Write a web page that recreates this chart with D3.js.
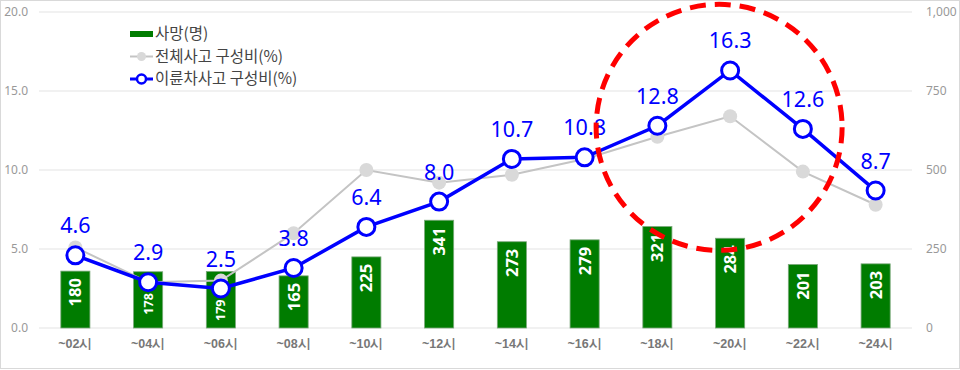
<!DOCTYPE html>
<html><head><meta charset="utf-8">
<script src="https://cdn.jsdelivr.net/npm/d3@7/dist/d3.min.js"></script>
<style>
html,body{margin:0;padding:0;background:#fff;}
svg{display:block;font-family:"Noto Sans CJK KR","Noto Sans",sans-serif;}
</style></head>
<body><svg id="c" width="960" height="370"></svg>
<script>
const categories = ["~02시","~04시","~06시","~08시","~10시","~12시","~14시","~16시","~18시","~20시","~22시","~24시"];
const deaths = [180,178,179,165,225,341,273,279,321,284,201,203];
const totalShare = [5.1,2.9,3.0,6.0,10.0,9.2,9.7,10.7,12.1,13.4,9.9,7.8];
const twoWheelShare = [4.6,2.9,2.5,3.8,6.4,8.0,10.7,10.8,12.8,16.3,12.6,8.7];
const leftTicks = [0,5,10,15,20];
const rightTicks = [0,250,500,750,1000];
const legendLabels = ["사망(명)","전체사고 구성비(%)","이륜차사고 구성비(%)"];

const svg = d3.select("#c");
const W = 960, H = 370;
const m = {left:39, right:48, top:12, bottom:42};

svg.append("rect").attr("x",0.5).attr("y",0.5).attr("width",W-1).attr("height",H-2)
  .attr("fill","#fff").attr("stroke","#d9d9d9");

const x = d3.scaleBand().domain(categories).range([m.left, W-m.right]).paddingInner(0.6).paddingOuter(0.3);
const yL = d3.scaleLinear().domain([0,20]).range([H-m.bottom, m.top]);
const yR = d3.scaleLinear().domain([0,1000]).range([H-m.bottom, m.top]);
const cx = c => x(c) + x.bandwidth()/2;

// gridlines
svg.append("g").selectAll("line").data(leftTicks).join("line")
  .attr("x1",m.left).attr("x2",W-m.right)
  .attr("y1",d=>yL(d)).attr("y2",d=>yL(d))
  .attr("stroke","#e3e3e3").attr("stroke-width",1);

// left axis labels
const axL = svg.append("g").attr("transform",`translate(${m.left-11},0)`)
  .call(d3.axisLeft(yL).tickValues(leftTicks).tickFormat(d3.format(".1f")).tickSize(0).tickPadding(0));
axL.select(".domain").remove();
axL.selectAll("text").attr("fill","#999").attr("font-size",12).attr("font-family","Noto Sans, sans-serif");

// right axis labels
const axR = svg.append("g").attr("transform",`translate(${W-m.right+14},0)`)
  .call(d3.axisRight(yR).tickValues(rightTicks).tickFormat(d3.format(",")).tickSize(0).tickPadding(0));
axR.select(".domain").remove();
axR.selectAll("text").attr("fill","#999").attr("font-size",12).attr("font-family","Noto Sans, sans-serif");

// x axis
const axX = svg.append("g").attr("transform",`translate(0,${H-m.bottom+8})`)
  .call(d3.axisBottom(x).tickSize(0).tickPadding(3));
axX.select(".domain").remove();
axX.selectAll("text").attr("fill","#777").attr("font-size",12.5).attr("font-weight","bold");

// bars
svg.append("g").selectAll("rect").data(categories).join("rect")
  .attr("x",d=>x(d)).attr("width",x.bandwidth())
  .attr("y",(d,i)=>yR(deaths[i])).attr("height",(d,i)=>yR(0)-yR(deaths[i]))
  .attr("fill","#007c00").attr("stroke","#7aa87a").attr("stroke-width",0.8);

// bar labels
svg.append("g").selectAll("text").data(categories).join("text")
  .attr("transform",(d,i)=>{
    const top = yR(deaths[i]);
    const my = yL(twoWheelShare[i]);
    const inside = my > top;
    const ty = inside ? my + 11 : top + 7;
    return `translate(${cx(d)+ (inside?4.5:6)},${ty}) rotate(-90)`;
  })
  .attr("text-anchor","end")
  .attr("font-size",(d,i)=> yL(twoWheelShare[i]) > yR(deaths[i]) ? 12.5 : 16.5)
  .attr("font-weight","bold").attr("fill","#fff")
  .attr("font-family","Noto Sans, sans-serif")
  .text((d,i)=>deaths[i]);

// gray line
const line = d3.line().x((d,i)=>cx(categories[i])).y(d=>yL(d));
svg.append("path").datum(totalShare).attr("d",line)
  .attr("fill","none").attr("stroke","#c4c4c4").attr("stroke-width",2);
svg.append("g").selectAll("circle").data(totalShare).join("circle")
  .attr("cx",(d,i)=>cx(categories[i])).attr("cy",d=>yL(d)).attr("r",7)
  .attr("fill","#d9d9d9");

// blue line
svg.append("path").datum(twoWheelShare).attr("d",line)
  .attr("fill","none").attr("stroke","#0000ff").attr("stroke-width",3.5);
svg.append("g").selectAll("circle").data(twoWheelShare).join("circle")
  .attr("cx",(d,i)=>cx(categories[i])).attr("cy",d=>yL(d)).attr("r",8.5)
  .attr("fill","#fff").attr("stroke","#0000ff").attr("stroke-width",3);
svg.append("g").selectAll("text").data(twoWheelShare).join("text")
  .attr("x",(d,i)=>cx(categories[i])).attr("y",d=>yL(d)-22)
  .attr("text-anchor","middle").attr("font-size",21.5).attr("fill","#0000ff")
  .attr("font-family","Noto Sans, sans-serif")
  .text(d=>d3.format(".1f")(d));

// red dashed highlight circle
svg.append("circle")
  .attr("cx",cx("~20시")-11).attr("cy",yL(12.7)).attr("r",123)
  .attr("fill","none").attr("stroke","#ff0000").attr("stroke-width",5)
  .attr("stroke-dasharray","16,9");

// legend
const lg = svg.append("g").attr("transform","translate(130,34)");
const rowH = 22.5;
lg.append("rect").attr("x",0).attr("y",-3).attr("width",23).attr("height",6).attr("fill","#007c00");
lg.append("line").attr("x1",0).attr("x2",23).attr("y1",rowH).attr("y2",rowH).attr("stroke","#c4c4c4").attr("stroke-width",2);
lg.append("circle").attr("cx",11.5).attr("cy",rowH).attr("r",4.5).attr("fill","#d9d9d9");
lg.append("line").attr("x1",0).attr("x2",23).attr("y1",rowH*2).attr("y2",rowH*2).attr("stroke","#0000ff").attr("stroke-width",3);
lg.append("circle").attr("cx",11.5).attr("cy",rowH*2).attr("r",4.5).attr("fill","#fff").attr("stroke","#0000ff").attr("stroke-width",2.5);
lg.selectAll("text").data(legendLabels).join("text")
  .attr("x",25).attr("y",(d,i)=>i*rowH).attr("dy","0.35em")
  .attr("font-size",15.5).attr("fill","#444").text(d=>d);
</script></body></html>
